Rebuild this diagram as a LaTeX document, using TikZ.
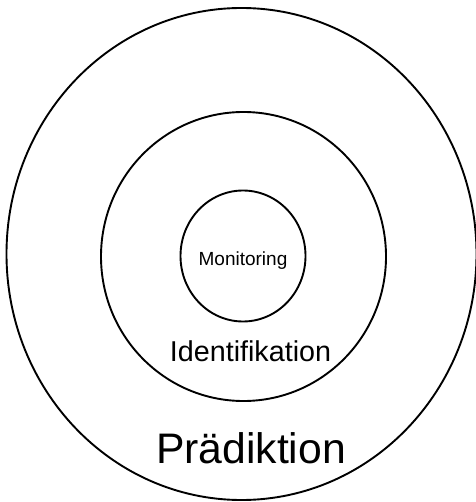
\documentclass[tikz,border=0pt]{standalone}
\usepackage{fontspec}
\setmainfont{Liberation Sans}
\usetikzlibrary{shapes.geometric}

\begin{document}
\begin{tikzpicture}[
		x=1pt, y=-1pt,
		ring/.style={ellipse,draw,line width=1.9pt,inner sep=0pt},
		lbl/.style={inner sep=0pt,anchor=base,font=\fontsize{#1}{#1}\selectfont},
]

\useasboundingbox (0,0) rectangle (475,502);

% rings, outside in
\node [ring,minimum width=470pt,minimum height=492pt] (praed) at (241.5,254) {};
\node [ring,minimum width=285pt,minimum height=289pt] (ident) at (243.5,256.5) {};
\node [ring,minimum width=125pt,minimum height=131pt] (monit) at (243,256) {};

% names
\node [lbl=19] (monitlbl) at (243,265) {Monitoring};
\node [lbl=28.7] (identlbl) at (250.5,361) {Identifikation};
\node [lbl=42.7] (praedlbl) at (251,463) {Prädiktion};

\end{tikzpicture}
\end{document}
